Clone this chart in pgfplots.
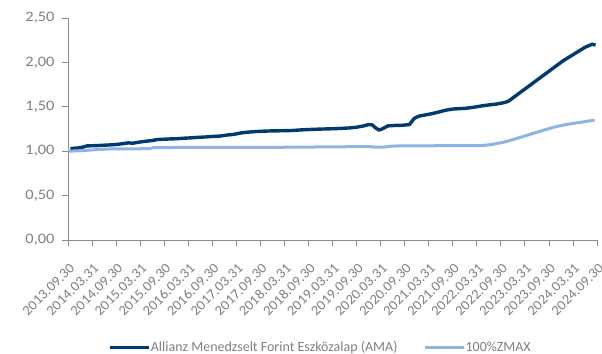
\documentclass[border=0pt]{standalone}
\usepackage{fontspec}
\setmainfont{Carlito}
\newfontfamily\tickfont[FakeStretch=1.13]{Carlito}
\newfontfamily\xtickfont[FakeStretch=1.05]{Carlito}
\usepackage{pgfplots}
\pgfplotsset{compat=1.18}
\definecolor{navy}{HTML}{003A6E}
\definecolor{lblue}{HTML}{8DB4E2}
\definecolor{axgray}{HTML}{8C8C8C}
\definecolor{txtgray}{HTML}{808080}
\begin{document}
\begin{tikzpicture}
\begin{axis}[
  name=ax,
  at={(0,0)}, anchor=south west,
  scale only axis,
  width=529bp, height=222bp,
  xmin=0, xmax=11, ymin=0, ymax=2.5,
  axis x line*=bottom, axis y line*=left,
  axis line style={axgray, line width=0.8bp},
  tick style={axgray, line width=0.8bp},
  tick align=outside, major tick length=6bp,
  xtick={0,0.5,...,11},
  xticklabels={2013.09.30,2014.03.31,2014.09.30,2015.03.31,2015.09.30,2016.03.31,2016.09.30,2017.03.31,2017.09.30,2018.03.31,2018.09.30,2019.03.31,2019.09.30,2020.03.31,2020.09.30,2021.03.31,2021.09.30,2022.03.31,2022.09.30,2023.03.31,2023.09.30,2024.03.31,2024.09.30},
  ytick={0,0.5,1,1.5,2,2.5},
  /pgf/number format/assume math mode=true,
  yticklabel style={/pgf/number format/fixed, /pgf/number format/fixed zerofill, /pgf/number format/precision=2, /pgf/number format/use comma,
    font=\tickfont\fontsize{14.5bp}{16bp}\selectfont, text=txtgray, xshift=-4bp},
  xticklabel style={font=\xtickfont\fontsize{14bp}{16bp}\selectfont, text=txtgray, rotate=45, anchor=east, inner sep=1bp, xshift=-10bp, yshift=-17bp},
  legend style={at={(0.476,-0.482)}, anchor=center, draw=none, fill=none,
    font=\fontsize{14bp}{16bp}\selectfont, text=txtgray,
    nodes={inner sep=0.5bp},
    /tikz/every even column/.append style={column sep=25bp},
    inner sep=0pt},
  legend columns=2,
  legend image code/.code={\draw[#1, line width=3bp] (0,0) -- (39bp,0);},
  clip=false,
]
\addplot[navy, line width=3.4bp, line join=round] coordinates {
(0.05,1.030) (0.20,1.036) (0.30,1.045) (0.40,1.060) (0.55,1.062) (0.70,1.066)
(0.85,1.070) (1.00,1.076) (1.15,1.085) (1.25,1.094) (1.35,1.090) (1.45,1.100)
(1.60,1.111) (1.75,1.120) (1.85,1.131) (2.00,1.135) (2.15,1.139) (2.25,1.140)
(2.40,1.146) (2.55,1.150) (2.70,1.156) (2.85,1.160) (3.00,1.166) (3.15,1.170)
(3.30,1.181) (3.45,1.190) (3.60,1.206) (3.75,1.215) (3.90,1.221) (4.05,1.225)
(4.25,1.229) (4.45,1.230) (4.65,1.233) (4.85,1.240) (5.05,1.245) (5.25,1.249)
(5.45,1.252) (5.65,1.256) (5.85,1.262) (6.00,1.270) (6.15,1.285) (6.25,1.300)
(6.33,1.295) (6.40,1.260) (6.47,1.238) (6.55,1.255) (6.65,1.285) (6.80,1.290)
(6.95,1.292) (7.10,1.300) (7.20,1.370) (7.30,1.395) (7.40,1.405) (7.55,1.421)
(7.70,1.440) (7.85,1.461) (8.00,1.475) (8.15,1.479) (8.30,1.485) (8.45,1.496)
(8.60,1.510) (8.75,1.521) (8.90,1.530) (9.05,1.545) (9.15,1.560) (9.25,1.600)
(9.40,1.660) (9.55,1.720) (9.70,1.780) (9.85,1.840) (10.00,1.900) (10.15,1.960)
(10.30,2.020) (10.45,2.070) (10.60,2.120) (10.75,2.170) (10.90,2.205) (10.97,2.195)
};
\addlegendentry{Allianz Menedzselt Forint Eszközalap (AMA)}
\addplot[lblue, line width=3bp, line join=round] coordinates {
(0.00,1.000) (0.25,1.005) (0.40,1.010) (0.65,1.020) (0.87,1.025) (1.25,1.027)
(1.70,1.028) (1.77,1.040) (2.25,1.042) (3.25,1.043) (4.25,1.044) (4.75,1.045)
(5.25,1.048) (5.75,1.050) (6.25,1.052) (6.40,1.046) (6.55,1.045) (6.70,1.055)
(6.85,1.060) (7.25,1.061) (8.25,1.062) (8.60,1.063) (8.80,1.075) (9.05,1.100)
(9.25,1.130) (9.55,1.180) (9.85,1.230) (10.10,1.270) (10.35,1.300) (10.65,1.325)
(10.95,1.350)
};
\addlegendentry{100\%ZMAX}
\end{axis}
\pgfresetboundingbox
\path[use as bounding box] (ax.south west) ++(-68bp,-114bp) rectangle ++(602bp,354bp);
\end{tikzpicture}
\end{document}
